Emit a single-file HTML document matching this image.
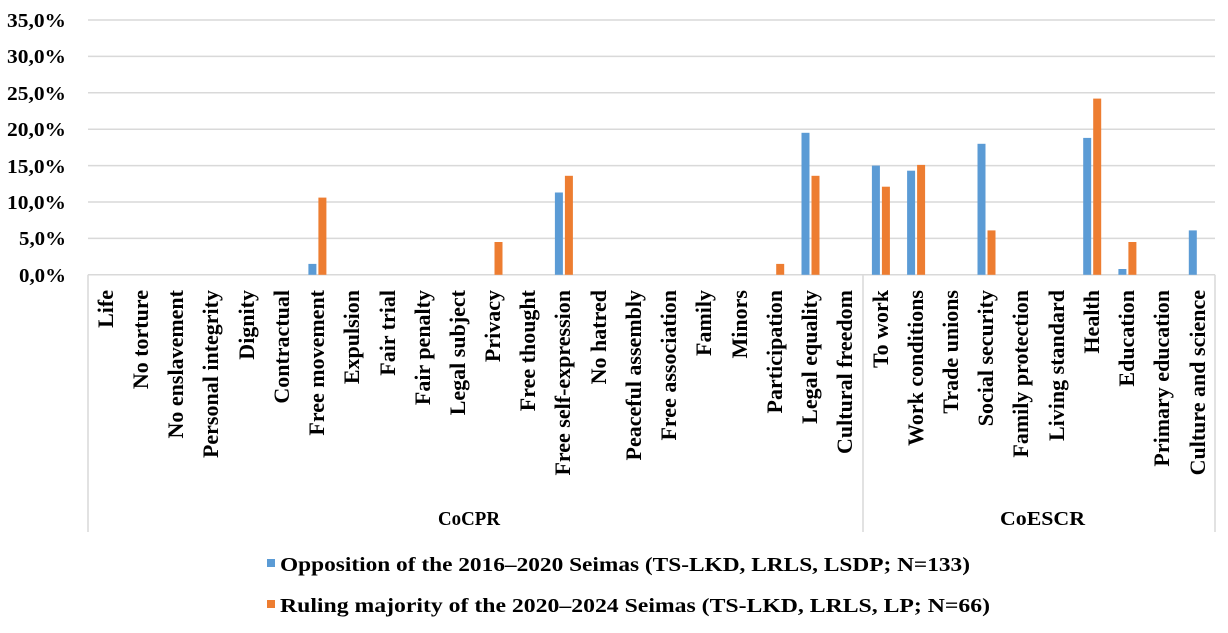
<!DOCTYPE html>
<html><head><meta charset="utf-8"><style>
body{margin:0;background:#fff}
svg text{font-family:"Liberation Serif",serif;font-weight:bold;fill:#000}
</style></head><body>
<svg width="1228" height="628" xmlns="http://www.w3.org/2000/svg">
<g stroke="#d9d9d9" stroke-width="1.5">
<line x1="88" x2="1215" y1="20" y2="20"/><line x1="88" x2="1215" y1="56.4" y2="56.4"/>
<line x1="88" x2="1215" y1="92.8" y2="92.8"/><line x1="88" x2="1215" y1="129.2" y2="129.2"/>
<line x1="88" x2="1215" y1="165.6" y2="165.6"/><line x1="88" x2="1215" y1="202" y2="202"/>
<line x1="88" x2="1215" y1="238.4" y2="238.4"/>
<line x1="88" x2="1215" y1="274.8" y2="274.8"/>
<line x1="88" x2="88" y1="274.8" y2="532"/><line x1="863" x2="863" y1="274.8" y2="532"/><line x1="1215" x2="1215" y1="274.8" y2="532"/>
</g>
<g font-size="20">
<text x="7" y="27" textLength="59" lengthAdjust="spacingAndGlyphs">35,0%</text>
<text x="7" y="63" textLength="59" lengthAdjust="spacingAndGlyphs">30,0%</text>
<text x="7" y="100" textLength="59" lengthAdjust="spacingAndGlyphs">25,0%</text>
<text x="7" y="136" textLength="59" lengthAdjust="spacingAndGlyphs">20,0%</text>
<text x="7" y="173" textLength="59" lengthAdjust="spacingAndGlyphs">15,0%</text>
<text x="7" y="209" textLength="59" lengthAdjust="spacingAndGlyphs">10,0%</text>
<text x="19" y="245" textLength="47" lengthAdjust="spacingAndGlyphs">5,0%</text>
<text x="19" y="282" textLength="47" lengthAdjust="spacingAndGlyphs">0,0%</text>
</g>
<g fill="#5b9bd5">
<rect x="308.4" y="263.9" width="8" height="10.9"/>
<rect x="554.9" y="192.5" width="8" height="82.3"/>
<rect x="801.5" y="132.8" width="8" height="142"/>
<rect x="871.9" y="165.6" width="8" height="109.2"/>
<rect x="907.1" y="170.7" width="8" height="104.1"/>
<rect x="977.5" y="143.8" width="8" height="131"/>
<rect x="1083.2" y="137.9" width="8" height="136.9"/>
<rect x="1118.4" y="269" width="8" height="5.8"/>
<rect x="1188.8" y="230.4" width="8" height="44.4"/>
</g>
<g fill="#ed7d31">
<rect x="318.4" y="197.6" width="8" height="77.2"/>
<rect x="494.5" y="242" width="8" height="32.8"/>
<rect x="564.9" y="175.8" width="8" height="99"/>
<rect x="776.2" y="263.9" width="8" height="10.9"/>
<rect x="811.5" y="175.8" width="8" height="99"/>
<rect x="881.9" y="186.7" width="8" height="88.1"/>
<rect x="917.1" y="164.9" width="8" height="109.9"/>
<rect x="987.5" y="230.4" width="8" height="44.4"/>
<rect x="1093.2" y="98.6" width="8" height="176.2"/>
<rect x="1128.4" y="242" width="8" height="32.8"/>
</g>
<g font-size="22" text-anchor="end">
<text transform="translate(113,290) rotate(-90)">Life</text>
<text transform="translate(148,290) rotate(-90)">No torture</text>
<text transform="translate(183,290) rotate(-90)">No enslavement</text>
<text transform="translate(218,290) rotate(-90)">Personal integrity</text>
<text transform="translate(254,290) rotate(-90)">Dignity</text>
<text transform="translate(289,290) rotate(-90)">Contractual</text>
<text transform="translate(324,290) rotate(-90)">Free movement</text>
<text transform="translate(359,290) rotate(-90)">Expulsion</text>
<text transform="translate(395,290) rotate(-90)">Fair trial</text>
<text transform="translate(430,290) rotate(-90)">Fair penalty</text>
<text transform="translate(465,290) rotate(-90)">Legal subject</text>
<text transform="translate(500,290) rotate(-90)">Privacy</text>
<text transform="translate(535,290) rotate(-90)">Free thought</text>
<text transform="translate(570,290) rotate(-90)">Free self-expression</text>
<text transform="translate(606,290) rotate(-90)">No hatred</text>
<text transform="translate(641,290) rotate(-90)">Peaceful assembly</text>
<text transform="translate(676,290) rotate(-90)">Free association</text>
<text transform="translate(711,290) rotate(-90)">Family</text>
<text transform="translate(747,290) rotate(-90)">Minors</text>
<text transform="translate(782,290) rotate(-90)">Participation</text>
<text transform="translate(817,290) rotate(-90)">Legal equality</text>
<text transform="translate(852,290) rotate(-90)">Cultural freedom</text>
<text transform="translate(888,290) rotate(-90)">To work</text>
<text transform="translate(923,290) rotate(-90)">Work conditions</text>
<text transform="translate(958,290) rotate(-90)">Trade unions</text>
<text transform="translate(993,290) rotate(-90)">Social security</text>
<text transform="translate(1028,290) rotate(-90)">Family protection</text>
<text transform="translate(1064,290) rotate(-90)">Living standard</text>
<text transform="translate(1099,290) rotate(-90)">Health</text>
<text transform="translate(1134,290) rotate(-90)">Education</text>
<text transform="translate(1169,290) rotate(-90)">Primary education</text>
<text transform="translate(1205,290) rotate(-90)">Culture and science</text>
</g>
<text x="438" y="525" font-size="20" textLength="62" lengthAdjust="spacingAndGlyphs">CoCPR</text>
<text x="1000" y="525" font-size="20" textLength="85" lengthAdjust="spacingAndGlyphs">CoESCR</text>
<rect x="267" y="559" width="8" height="8" fill="#5b9bd5"/>
<text x="280" y="571" font-size="20" textLength="690" lengthAdjust="spacingAndGlyphs">Opposition of the 2016–2020 Seimas (TS-LKD, LRLS, LSDP; N=133)</text>
<rect x="267" y="600" width="8" height="8" fill="#ed7d31"/>
<text x="280" y="612" font-size="20" textLength="710" lengthAdjust="spacingAndGlyphs">Ruling majority of the 2020–2024 Seimas (TS-LKD, LRLS, LP; N=66)</text>
</svg>
</body></html>
